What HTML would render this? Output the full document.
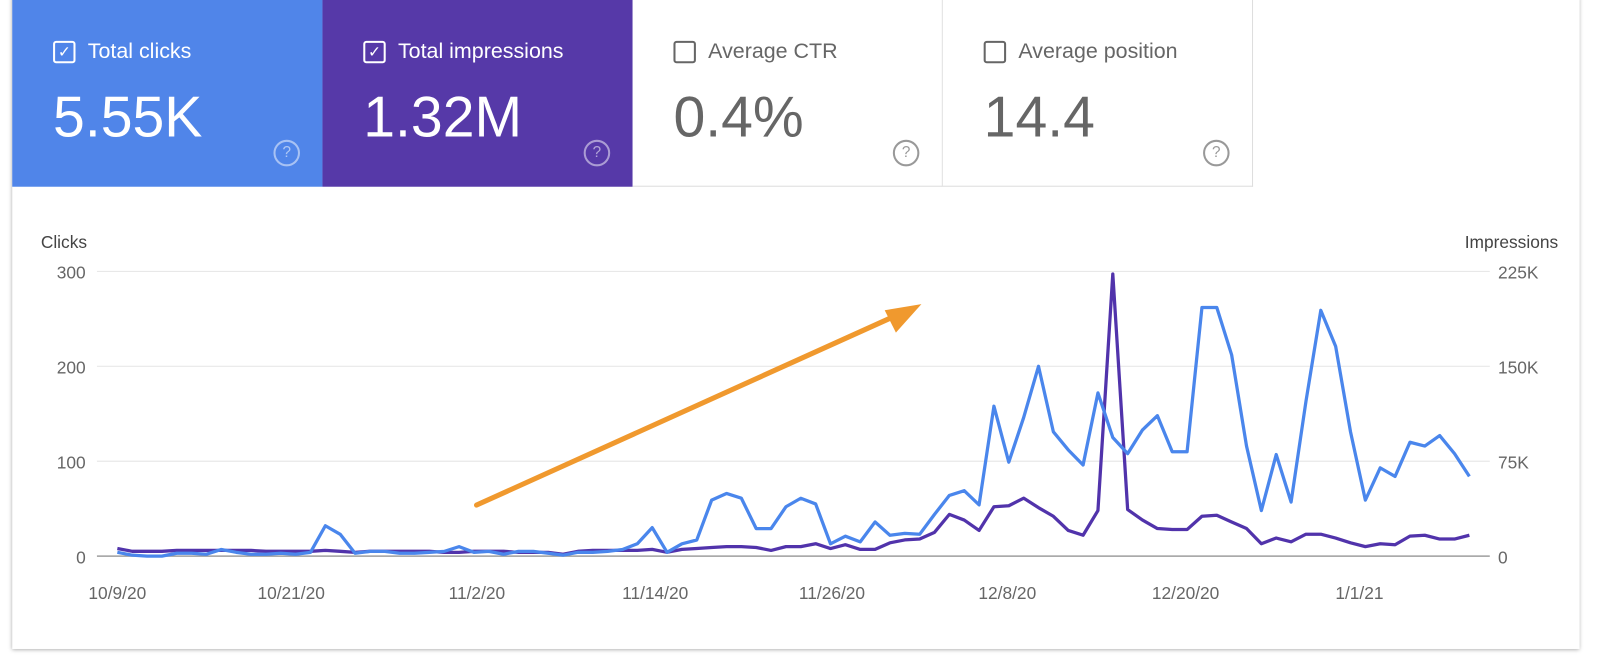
<!DOCTYPE html>
<html><head><meta charset="utf-8"><style>
body{margin:0;width:1600px;height:654px;background:#fff;font-family:"Liberation Sans",sans-serif;overflow:hidden;position:relative}
#wrap{position:absolute;left:0;top:0;width:1600px;height:654px;transform:scale(1.0204);transform-origin:0 0}
.panel{position:absolute;left:12px;top:-4px;width:1536px;height:640px;background:#fff;box-shadow:0 1px 4px rgba(0,0,0,.35)}
.card{position:absolute;top:0;height:183px;width:304px;box-sizing:border-box}
.lbl{position:absolute;left:40px;top:39px;font-size:21px;display:flex;align-items:center}
.cb{width:22px;height:22px;border:2px solid;border-radius:3px;box-sizing:border-box;margin-right:12px;display:inline-flex;align-items:center;justify-content:center;font-size:15px}
.val{position:absolute;left:40px;top:82px;font-size:56px}
.q{position:absolute;right:22px;top:137px;width:22px;height:22px;border:2px solid;border-radius:50%;font-size:15px;text-align:center;line-height:22px;box-sizing:content-box}
</style></head><body>
<div id="wrap">
<div class="panel"></div>
<div class="card" style="left:12px;background:#5085e9;color:#fff">
 <div class="lbl"><span class="cb" style="border-color:#fff">✓</span>Total clicks</div>
 <div class="val">5.55K</div>
 <div class="q" style="border-color:rgba(255,255,255,.5);color:rgba(255,255,255,.55)">?</div>
</div>
<div class="card" style="left:316px;background:#5639a8;color:#fff">
 <div class="lbl"><span class="cb" style="border-color:#fff">✓</span>Total impressions</div>
 <div class="val">1.32M</div>
 <div class="q" style="border-color:rgba(255,255,255,.5);color:rgba(255,255,255,.55)">?</div>
</div>
<div class="card" style="left:620px;background:#fff;color:#666;border-right:1px solid #ddd;border-bottom:1px solid #ddd">
 <div class="lbl"><span class="cb" style="border-color:#666"></span>Average CTR</div>
 <div class="val">0.4%</div>
 <div class="q" style="border-color:#999;color:#999">?</div>
</div>
<div class="card" style="left:924px;background:#fff;color:#666;border-right:1px solid #ddd;border-bottom:1px solid #ddd">
 <div class="lbl"><span class="cb" style="border-color:#666"></span>Average position</div>
 <div class="val">14.4</div>
 <div class="q" style="border-color:#999;color:#999">?</div>
</div>
<svg id="chart" width="1600" height="654" style="position:absolute;left:0;top:0" font-family="Liberation Sans, sans-serif"></svg>
</div>
<script>
const clicks=[4,1,0,0,3,3,2,7,4,2,2,3,2,4,32,23,3,5,5,3,3,4,5,10,4,5,2,5,5,3,1,4,4,5,7,13,30,4,13,17,59,66,61,29,29,52,61,55,13,21,15,36,22,24,23,44,64,69,54,158,99,146,200,131,112,96,172,125,108,133,148,110,110,262,262,212,116,48,107,57,163,259,221,131,59,93,84,120,116,127,108,84];
const impressionsK=[6,3.8,3.8,3.8,4.5,4.5,4.5,4.5,4.5,4.5,3.8,3.8,3.8,3.8,4.5,3.8,3,3.8,3.8,3.8,3.8,3.8,3,3,3.8,3.8,3.8,3,3,3,1.5,3.8,4.5,4.5,4.5,4.5,5.3,3,5.3,6,6.8,7.5,7.5,6.8,4.5,7.5,7.5,9.8,6,9,5.3,5.3,10.5,12.8,13.5,18.8,33,28.5,20.3,39,39.8,45.8,38.3,31.5,20.3,16.5,36,223,36.8,28.5,21.8,21,21,31.5,32.3,27,21.8,9.8,14.3,11.3,17.3,17.3,14.3,10.5,7.5,9.8,9,15.8,16.5,13.5,13.5,16.5];
const leftTicks=[0,100,200,300];
const rightTicks=["0","75K","150K","225K"];
const rightTickVals=[0,75,150,225];
const dateLabels=["10/9/20","10/21/20","11/2/20","11/14/20","11/26/20","12/8/20","12/20/20","1/1/21"];
const dateIdx=[0,11.7,24.2,36.2,48.1,59.9,71.9,83.6];
const svg=document.getElementById('chart');const NS='http://www.w3.org/2000/svg';
const X0=115,X1=1440,Y0=545,Y3=266;
const n=clicks.length;
const x=i=>X0+(X1-X0)*i/(n-1);
const yL=v=>Y0-(Y0-Y3)*v/300;
const yR=v=>Y0-(Y0-Y3)*v/225;
function mk(t,a){const e=document.createElementNS(NS,t);for(const k in a)e.setAttribute(k,a[k]);svg.appendChild(e);return e;}
leftTicks.forEach((v,i)=>{
 const g=mk('line',{x1:95,x2:1460,y1:yL(v),y2:yL(v),stroke:i==0?'#9e9e9e':'#e8e8e8','stroke-width':i==0?1.5:1.2});
 
 
 const t=mk('text',{x:84,y:yL(v)+7,'text-anchor':'end','font-size':17,fill:'#666'});t.textContent=v;
 
 
});
rightTickVals.forEach((v,i)=>{
 const t=mk('text',{x:1468,y:yR(v)+7,'font-size':17,fill:'#666'});t.textContent=rightTicks[i];
 
 
});
let t=mk('text',{x:40,y:243,'font-size':17,fill:'#444'});t.textContent='Clicks';


t=mk('text',{x:1527,y:243,'font-size':17,fill:'#444','text-anchor':'end'});t.textContent='Impressions';


dateLabels.forEach((d,i)=>{
 const e=mk('text',{x:x(dateIdx[i]),y:587,'font-size':17,fill:'#666','text-anchor':'middle'});e.textContent=d;
 
 
});
const pImp=mk('polyline',{points:impressionsK.map((v,i)=>x(i)+','+yR(v)).join(' '),fill:'none',stroke:'#5133ab','stroke-width':3.2,'stroke-linejoin':'round'});


const pCl=mk('polyline',{points:clicks.map((v,i)=>x(i)+','+yL(v)).join(' '),fill:'none',stroke:'#4a86ec','stroke-width':3.2,'stroke-linejoin':'round'});


const ar=mk('line',{x1:467,y1:495,x2:872,y2:312,stroke:'#f0992e','stroke-width':5,'stroke-linecap':'round'});


const ah=mk('polygon',{points:'903,298 867,304 878,326',fill:'#f0992e'});


</script>
</body></html>
